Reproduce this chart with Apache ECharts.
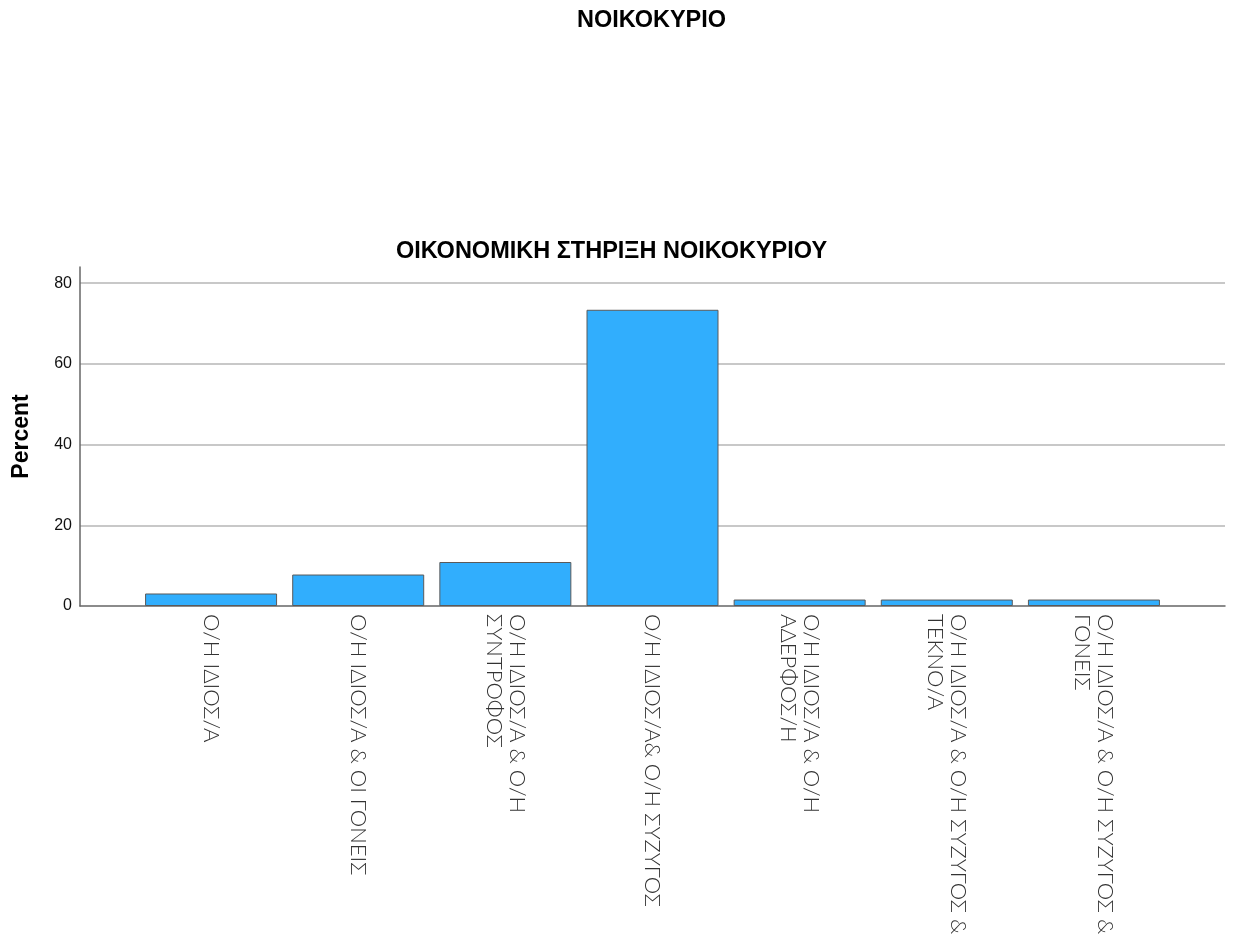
<!DOCTYPE html>
<html>
<head>
<meta charset="utf-8">
<script src="https://cdn.jsdelivr.net/npm/echarts@6/dist/echarts.min.js"></script>
<style>html,body{margin:0;padding:0;background:#fff;}#c{width:1237px;height:940px;}</style>
</head>
<body>
<div id="c"></div>
<script>
const mainTitle = 'ΝΟΙΚΟΚΥΡΙΟ';
const chartTitle = 'ΟΙΚΟΝΟΜΙΚΗ ΣΤΗΡΙΞΗ ΝΟΙΚΟΚΥΡΙΟΥ';
const yAxisName = 'Percent';
const categories = [
  'Ο/Η ΙΔΙΟΣ/Α',
  'Ο/Η ΙΔΙΟΣ/Α & ΟΙ ΓΟΝΕΙΣ',
  'Ο/Η ΙΔΙΟΣ/Α & Ο/Η\nΣΥΝΤΡΟΦΟΣ',
  'Ο/Η ΙΔΙΟΣ/Α& Ο/Η ΣΥΖΥΓΟΣ',
  'Ο/Η ΙΔΙΟΣ/Α & Ο/Η\nΑΔΕΡΦΟΣ/Η',
  'Ο/Η ΙΔΙΟΣ/Α & Ο/Η ΣΥΖΥΓΟΣ &\nΤΕΚΝΟ/Α',
  'Ο/Η ΙΔΙΟΣ/Α & Ο/Η ΣΥΖΥΓΟΣ &\nΓΟΝΕΙΣ'
];
const percents = [3.1, 7.8, 10.9, 73.4, 1.6, 1.6, 1.6];
const yTicks = [0, 20, 40, 60, 80];

const chart = echarts.init(document.getElementById('c'), null, {renderer: 'canvas'});
const yMin = 0, yMax = 84;
chart.setOption({
  backgroundColor: '#ffffff',
  animation: false,
  title: [
    {text: mainTitle, left: 646.5, top: 4, textAlign: 'center',
     textStyle: {fontFamily: 'Liberation Sans, Arial, sans-serif', fontWeight: 'bold', fontSize: 23.5, color: '#000'}},
    {text: chartTitle, left: 606.5, top: 235, textAlign: 'center',
     textStyle: {fontFamily: 'Liberation Sans, Arial, sans-serif', fontWeight: 'bold', fontSize: 23.5, color: '#000'}}
  ],
  grid: [
    {left: 80, right: 12, top: 267, bottom: 334},
    {left: 137.5, right: 69.5, top: 267, bottom: 334}
  ],
  xAxis: [
    {type: 'category', gridIndex: 0, data: [''],
     axisLine: {show: true, lineStyle: {color: '#666', width: 1.5}},
     axisTick: {show: false}, axisLabel: {show: false}, splitLine: {show: false}},
    {type: 'category', gridIndex: 1, data: categories,
     axisLine: {show: false}, axisTick: {show: false},
     axisLabel: {rotate: -90, interval: 0, margin: 8, fontFamily: 'Lato, sans-serif', fontWeight: 300,
       fontSize: 22, lineHeight: 23, color: '#333'}}
  ],
  yAxis: [
    {type: 'value', gridIndex: 0, min: yMin, max: yMax, interval: 20,
     name: yAxisName, nameLocation: 'middle', nameGap: 47, nameRotate: 90,
     nameTextStyle: {fontFamily: 'Liberation Sans, Arial, sans-serif', fontWeight: 'bold', fontSize: 23, color: '#000'},
     axisLine: {show: true, lineStyle: {color: '#666', width: 1.5}},
     axisTick: {show: false},
     axisLabel: {margin: 8, fontFamily: 'Liberation Sans, Arial, sans-serif', fontSize: 16, color: '#111',
       showMaxLabel: false,
       formatter: v => yTicks.indexOf(v) >= 0 ? String(v) : ''},
     splitLine: {show: true, showMinLine: false, showMaxLine: false, lineStyle: {color: '#c8c8c8', width: 2}}},
    {type: 'value', gridIndex: 1, min: yMin, max: yMax, interval: 20, show: false,
     splitLine: {show: false}}
  ],
  series: [{
    type: 'bar', xAxisIndex: 1, yAxisIndex: 1, data: percents, barWidth: 132,
    itemStyle: {color: '#31aefd', borderColor: '#5a5a5a', borderWidth: 1}
  }]
});
</script>
</body>
</html>
